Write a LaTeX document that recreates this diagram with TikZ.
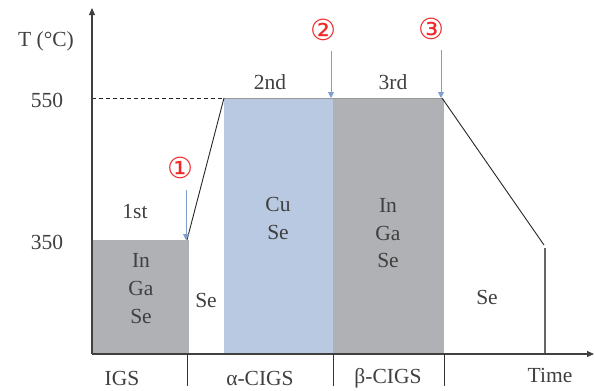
\documentclass[tikz,border=0pt]{standalone}
\usepackage{fontspec}
\setmainfont{Liberation Serif}
\newfontfamily\circfont{DejaVu Sans}
\usetikzlibrary{arrows.meta}
\definecolor{txt}{HTML}{404040}
\definecolor{boxgrey}{HTML}{B0B1B5}
\definecolor{boxblue}{HTML}{B9C9E2}
\definecolor{arrblue}{HTML}{7E9FCB}
\definecolor{circred}{HTML}{F02828}
\tikzset{
  lbl/.style={text=txt, font=\fontsize{21.5}{21.5}\selectfont, inner sep=0pt, anchor=center},
  circ/.style={text=circred, font=\circfont\fontsize{29}{29}\selectfont, inner sep=0pt},
  axis/.style={draw=black!75, line width=1.1pt, -{Triangle[length=7pt,width=6pt]}},
  prof/.style={draw=black!85, line width=0.9pt},
  tick/.style={draw=black!80, line width=1pt},
  marker/.style={draw=arrblue, line width=0.9pt, -{Triangle[length=6pt,width=6pt]}},
}
\begin{document}
\begin{tikzpicture}[x=1pt,y=-1pt]
\useasboundingbox (0,0) rectangle (595,391);
% boxes
\fill[boxgrey] (92,240) rectangle (189,354);
\fill[boxblue] (224,99) rectangle (333,354);
\fill[boxgrey] (333,99) rectangle (444,354);
% coordinates
\coordinate (O) at (92,354);
\coordinate (Ytop) at (92,8);
\coordinate (Xend) at (594,354);
\coordinate (p1) at (187,240);
\coordinate (p2) at (224,98);
\coordinate (p3) at (442,98);
\coordinate (p4) at (544,245);
\coordinate (d0) at (92,98);
\coordinate (v1) at (545,248);
\coordinate (v0) at (545,354);
% dashed 550 line
\draw[black!85, dashed, line width=0.8pt, dash pattern=on 4pt off 3pt] (d0) -- (p2);
% top plateau
\draw[black!40, line width=1pt] (p2) -- (p3);
% profile
\draw[prof] (p1) -- (p2);
\draw[prof] (p3) -- (p4);
\draw[black!60, line width=1.2pt] (v1) -- (v0);
% axes
\draw[axis] (O) -- (Ytop);
\draw[axis] (O) -- (Xend);
% ticks
\coordinate (t1a) at (187,354); \coordinate (t1b) at (187,386);
\coordinate (t2a) at (333,354); \coordinate (t2b) at (333,386);
\coordinate (t3a) at (444,354); \coordinate (t3b) at (444,386);
\draw[tick] (t1a) -- (t1b);
\draw[tick] (t2a) -- (t2b);
\draw[tick] (t3a) -- (t3b);
% markers
\coordinate (m1a) at (186,190); \coordinate (m1b) at (186,240);
\coordinate (m2a) at (331,51); \coordinate (m2b) at (331,98);
\coordinate (m3a) at (441,50); \coordinate (m3b) at (441,98);
\draw[marker] (m1a) -- (m1b);
\draw[marker] (m2a) -- (m2b);
\draw[marker] (m3a) -- (m3b);
% labels
\node[lbl] (tl) at (46,41) {T (°C)};
\node[lbl] (l550) at (47,100) {550};
\node[lbl] (l350) at (47,242) {350};
\node[lbl] (first) at (135,212) {1st};
\node[lbl] (second) at (270,82) {2nd};
\node[lbl] (third) at (393,82) {3rd};
\node[circ] (c1) at (180,168) {①};
\node[circ] (c2) at (323,30) {②};
\node[circ] (c3) at (431,29) {③};
\node[lbl] (a1) at (141,260) {In};
\node[lbl] (a2) at (141,288) {Ga};
\node[lbl] (a3) at (141,316) {Se};
\node[lbl] (se1) at (206,300) {Se};
\node[lbl] (b1) at (278,204) {Cu};
\node[lbl] (b2) at (278,232) {Se};
\node[lbl] (c1t) at (388,205) {In};
\node[lbl] (c2t) at (388,233) {Ga};
\node[lbl] (c3t) at (388,260) {Se};
\node[lbl] (se2) at (487,297) {Se};
\node[lbl] (igs) at (122,378) {IGS};
\node[lbl] (acigs) at (260,378) {α-CIGS};
\node[lbl] (bcigs) at (388,378) {β-CIGS};
\node[lbl] (time) at (550,375) {Time};
\end{tikzpicture}
\end{document}
